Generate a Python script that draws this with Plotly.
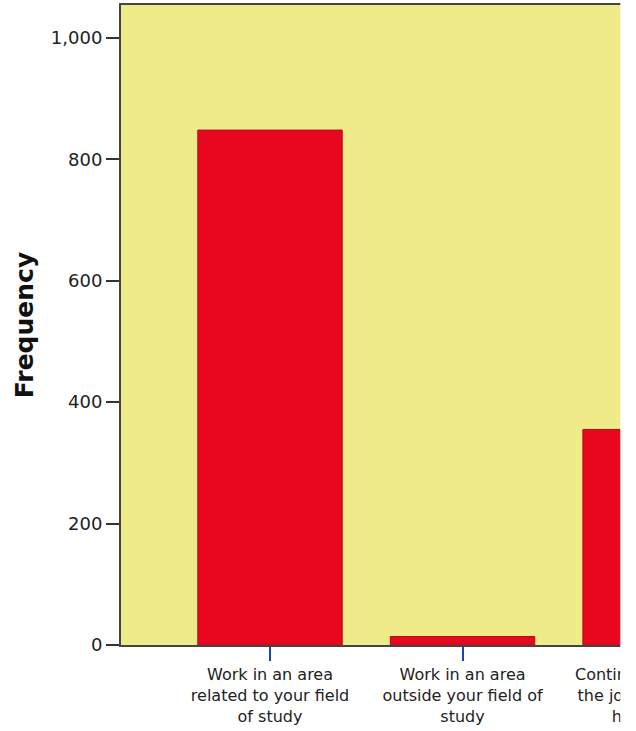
import plotly.graph_objects as go

# bar chart of planned activity after graduation (SPSS style, cropped on the right)
categories = [
    'Work in an area<br>related to your field<br>of study',
    'Work in an area<br>outside your field of<br>study',
    'Continue working in<br>the job you already<br>had before',
]
frequency = [848, 14, 355]

y_ticks = [0, 200, 400, 600, 800, 1000]

# the original picture is a crop of a wider chart: draw it wider and
# white out everything right of the crop line (x = 619 px)
fig_w = 760
plot_l = 121
crop_x = (619 - plot_l) / (fig_w - plot_l)

fig = go.Figure()
fig.add_trace(go.Bar(
    x=categories,
    y=frequency,
    width=0.75,
    marker=dict(color='#E9071F', line=dict(color='#B0101E', width=1)),
))

fig.update_layout(
    width=fig_w, height=731,
    margin=dict(l=plot_l, r=0, t=5, b=86),
    paper_bgcolor='white',
    plot_bgcolor='#EEEB88',
    showlegend=False,
    font=dict(family='DejaVu Sans', size=16, color='#222'),
    shapes=[dict(type='rect', xref='paper', yref='paper',
                 x0=crop_x + 0.002, x1=1.1, y0=-0.3, y1=1.1,
                 fillcolor='white', line=dict(width=0), layer='above')],
)

fig.update_xaxes(
    range=[-0.774, 2.545],
    showline=True, linecolor='#444', linewidth=2, mirror=True,
    ticks='outside', ticklen=14, tickwidth=2, tickcolor='#2040C0',
    tickfont=dict(size=16, color='#222'),
    showgrid=False,
)

fig.update_yaxes(
    range=[0, 1054],
    tickvals=y_ticks, tickformat=',',
    showline=True, linecolor='#444', linewidth=2,
    ticks='outside', ticklen=13, tickwidth=2, tickcolor='#333',
    tickfont=dict(size=18, color='#222'),
    showgrid=False, zeroline=False,
    title=dict(text='<b>Frequency</b>', standoff=10,
               font=dict(size=25, color='#111')),
)

fig.write_html('out.html',
               config={'displayModeBar': False},
               post_script="document.body.style.margin='0';"
                           "document.body.style.overflow='hidden';")
